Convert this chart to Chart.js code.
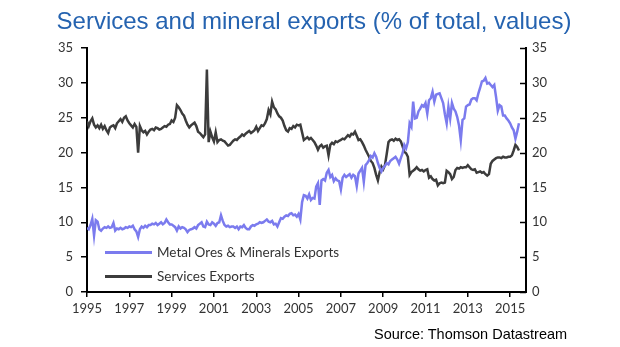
<!DOCTYPE html>
<html>
<head>
<meta charset="utf-8">
<script src="https://cdn.jsdelivr.net/npm/chart.js@4.4.1/dist/chart.umd.min.js"></script>
<style>
  html, body { margin: 0; padding: 0; background: #fff; }
  #wrap { position: relative; width: 620px; height: 347px; overflow: hidden; }
  #title { position: absolute; left: 0; width: 628px; top: 6px; text-align: center;
    font-family: "Liberation Sans", Arial, sans-serif; font-size: 24px; color: #2563b0; line-height: 30px; white-space: nowrap; }
  #source { position: absolute; left: 374px; top: 325px; font-family: "Liberation Sans", Arial, sans-serif;
    font-size: 14.5px; color: #000; line-height: 18px; white-space: nowrap; }
  .leg { position: absolute; left: 105px; height: 20px; font-family: Lato, "Open Sans", sans-serif; font-size: 13.5px; color: #333; white-space: nowrap; }
  .leg .sw { position: absolute; left: 0; top: 9px; width: 47px; height: 3px; }
  .leg .tx { position: absolute; left: 52px; top: 0; line-height: 20px; }
</style>
</head>
<body>
<div id="wrap">
  <canvas id="c" width="620" height="347"></canvas>
  <div id="title">Services and mineral exports (% of total, values)</div>
  <div id="source">Source: Thomson Datastream</div>
  <div class="leg" style="top:242px"><div class="sw" style="background:#7b7bee"></div><div class="tx">Metal Ores &amp; Minerals Exports</div></div>
  <div class="leg" style="top:265.5px"><div class="sw" style="background:#3c3c3c"></div><div class="tx">Services Exports</div></div>
</div>
<script>
// Monthly data, January 1995 to June 2015
const startYear = 1995;
const tickYears = [1995, 1997, 1999, 2001, 2003, 2005, 2007, 2009, 2011, 2013, 2015];
const yTicks = [0, 5, 10, 15, 20, 25, 30, 35];
const seriesNames = ["Metal Ores & Minerals Exports", "Services Exports"];

const metalOres = [
  9.2,9.0,9.6,10.5,8.1,10.3,10.1,9.0,8.8,9.1,9.3,9.2,
  9.4,9.2,9.3,9.9,8.8,9.1,9.0,9.2,9.0,9.1,9.3,9.2,
  9.4,9.3,9.5,9.0,8.7,7.9,9.0,9.4,9.2,9.5,9.3,9.6,
  9.6,9.8,9.7,9.9,9.6,9.8,10.0,9.7,9.9,10.4,10.0,9.7,
  9.7,9.5,9.3,8.8,9.4,9.1,9.3,9.2,9.0,8.6,8.9,9.0,
  9.1,9.3,9.1,9.6,9.8,10.0,9.4,9.3,10.1,9.7,9.6,10.0,
  9.8,9.5,9.9,10.0,11.0,10.2,9.6,9.4,9.5,9.3,9.4,9.4,
  9.2,9.4,9.0,9.4,9.3,9.6,9.2,9.0,9.0,9.4,9.6,9.5,
  9.7,9.8,10.0,9.9,10.0,10.2,10.4,10.1,10.0,10.2,9.7,9.8,
  9.4,10.0,10.6,10.5,10.8,11.0,10.9,11.2,11.3,11.0,11.1,10.8,
  11.2,10.4,12.9,13.9,13.8,13.4,14.0,13.2,13.5,13.4,15.1,15.6,
  12.5,16.0,16.2,16.0,17.1,17.5,16.5,16.8,15.9,16.3,16.0,15.9,
  14.7,16.4,16.8,16.5,16.7,16.9,16.4,16.8,16.6,15.2,17.0,17.4,
  17.8,15.8,18.2,18.5,18.9,19.5,19.3,19.9,19.4,18.5,17.8,17.3,
  17.8,18.1,18.5,18.3,18.8,19.0,19.2,19.4,19.0,18.4,19.2,19.9,
  21.1,20.6,21.5,24.2,23.7,27.3,24.9,25.0,25.9,26.3,26.8,26.6,
  27.1,25.6,27.5,27.8,28.7,27.3,28.3,28.4,28.5,27.8,27.1,25.5,
  24.2,26.6,24.9,27.1,26.3,25.9,25.1,23.9,21.8,24.7,24.9,26.6,
  26.8,26.9,27.6,27.8,27.8,27.5,28.5,29.3,30.2,30.3,30.7,29.9,
  30.0,29.7,29.4,29.7,28.0,26.0,26.8,26.6,25.3,25.3,24.9,24.6,
  24.2,23.6,23.2,22.0,23.0,24.2
];

const services = [
  24.5,23.8,24.5,24.9,24.0,23.6,23.9,23.5,24.0,23.4,23.8,23.2,
  22.8,23.6,23.8,23.9,23.5,24.2,24.5,24.8,24.4,25.0,25.2,24.6,
  24.2,23.9,23.6,24.1,23.7,20.0,23.8,23.2,22.9,23.1,22.6,23.0,
  23.3,23.4,23.2,23.6,23.5,23.3,23.4,23.6,23.8,23.7,24.0,24.1,
  24.6,24.4,25.0,26.8,26.5,26.1,25.6,25.3,24.6,24.0,23.6,23.9,
  24.1,24.3,23.8,23.0,22.8,22.5,22.2,22.6,31.9,21.5,23.0,22.2,
  21.6,22.9,21.5,21.8,21.9,21.7,21.6,21.3,21.0,21.1,21.4,21.7,
  21.9,21.8,22.1,22.3,22.6,22.4,22.7,22.9,23.1,22.8,23.0,23.2,
  23.7,23.1,23.5,23.9,23.8,24.2,24.8,26.1,25.5,27.3,26.5,26.2,
  25.6,25.2,25.0,24.6,23.8,23.2,23.0,23.5,23.4,23.8,23.6,24.0,
  23.9,24.0,22.9,21.8,22.0,22.2,21.9,22.1,21.8,21.5,21.0,20.4,
  20.9,21.1,20.7,20.9,21.0,19.6,21.1,21.4,21.2,21.6,21.5,21.7,
  21.8,22.0,21.9,22.2,22.5,22.3,22.7,22.6,23.0,22.4,21.8,21.9,
  21.5,21.0,20.4,19.9,19.4,18.8,18.5,17.8,16.8,16.0,17.2,18.0,
  17.6,18.2,19.8,21.5,21.8,21.9,21.7,22.0,21.8,21.9,21.6,20.9,
  20.1,19.9,19.4,16.8,17.2,17.4,17.6,17.9,17.6,17.4,17.5,17.3,
  17.5,17.6,16.4,16.6,16.2,16.0,16.1,15.3,15.6,15.7,15.6,15.7,
  17.4,17.2,16.9,16.2,16.5,17.5,17.8,17.7,17.9,17.8,17.9,17.9,
  18.2,17.9,17.6,17.5,17.6,17.1,17.2,17.3,17.1,17.2,16.9,16.7,
  16.9,18.4,18.8,19.0,19.2,19.3,19.3,19.2,19.4,19.3,19.3,19.4,
  19.4,19.6,20.3,21.1,20.8,20.3
];

const toPoints = arr => arr.map((v, i) => ({ x: startYear + i / 12, y: v }));

const tickFont = { family: "Lato, 'Open Sans', sans-serif", size: 13 };

const inwardTicks = {
  id: 'inwardTicks',
  afterDraw(chart) {
    const s = chart.scales.y2;
    const ctx = chart.ctx;
    ctx.save();
    ctx.strokeStyle = '#000';
    ctx.lineWidth = 1.5;
    s.ticks.forEach((t, i) => {
      const y = Math.round(s.getPixelForTick(i)) + 0.5;
      ctx.beginPath();
      ctx.moveTo(chart.chartArea.right - 6, y);
      ctx.lineTo(chart.chartArea.right, y);
      ctx.stroke();
    });
    ctx.restore();
  }
};

new Chart(document.getElementById('c'), {
  type: 'line',
  data: {
    datasets: [
      { label: seriesNames[0], data: toPoints(metalOres), borderColor: '#7b7bee', borderWidth: 2.5,
        pointRadius: 0, tension: 0, yAxisID: 'y' },
      { label: seriesNames[1], data: toPoints(services), borderColor: '#3c3c3c', borderWidth: 2.5,
        pointRadius: 0, tension: 0, yAxisID: 'y' }
    ]
  },
  options: {
    responsive: false,
    devicePixelRatio: 1,
    animation: false,
    events: [],
    layout: { padding: { top: 48, left: 0, right: 0, bottom: 0 } },
    plugins: { legend: { display: false }, title: { display: false }, tooltip: { enabled: false } },
    scales: {
      x: {
        type: 'linear', min: 1995, max: 2015.75,
        afterBuildTicks: s => { s.ticks = tickYears.map(v => ({ value: v })); },
        afterFit: s => { s.height = 55; },
        border: { display: true, color: '#000', width: 2 },
        grid: { display: true, drawOnChartArea: false, color: '#000', lineWidth: 1.5, tickLength: 5 },
        ticks: { font: tickFont, color: '#333', padding: 4, maxRotation: 0, autoSkip: false,
          callback: v => String(v) }
      },
      y: {
        position: 'left', min: 0, max: 35,
        afterBuildTicks: s => { s.ticks = yTicks.map(v => ({ value: v })); },
        afterFit: s => { s.width = 87; },
        border: { display: true, color: '#000', width: 2 },
        grid: { display: true, drawOnChartArea: false, color: '#000', lineWidth: 1.5, tickLength: 6 },
        ticks: { font: tickFont, color: '#333', padding: 8 }
      },
      y2: {
        position: 'right', min: 0, max: 35,
        afterBuildTicks: s => { s.ticks = yTicks.map(v => ({ value: v })); },
        afterFit: s => { s.width = 94; },
        border: { display: true, color: '#000', width: 2 },
        grid: { display: true, drawOnChartArea: false, drawTicks: false, color: '#000' },
        ticks: { font: tickFont, color: '#333', padding: 6 }
      }
    }
  },
  plugins: [inwardTicks]
});
</script>
</body>
</html>
